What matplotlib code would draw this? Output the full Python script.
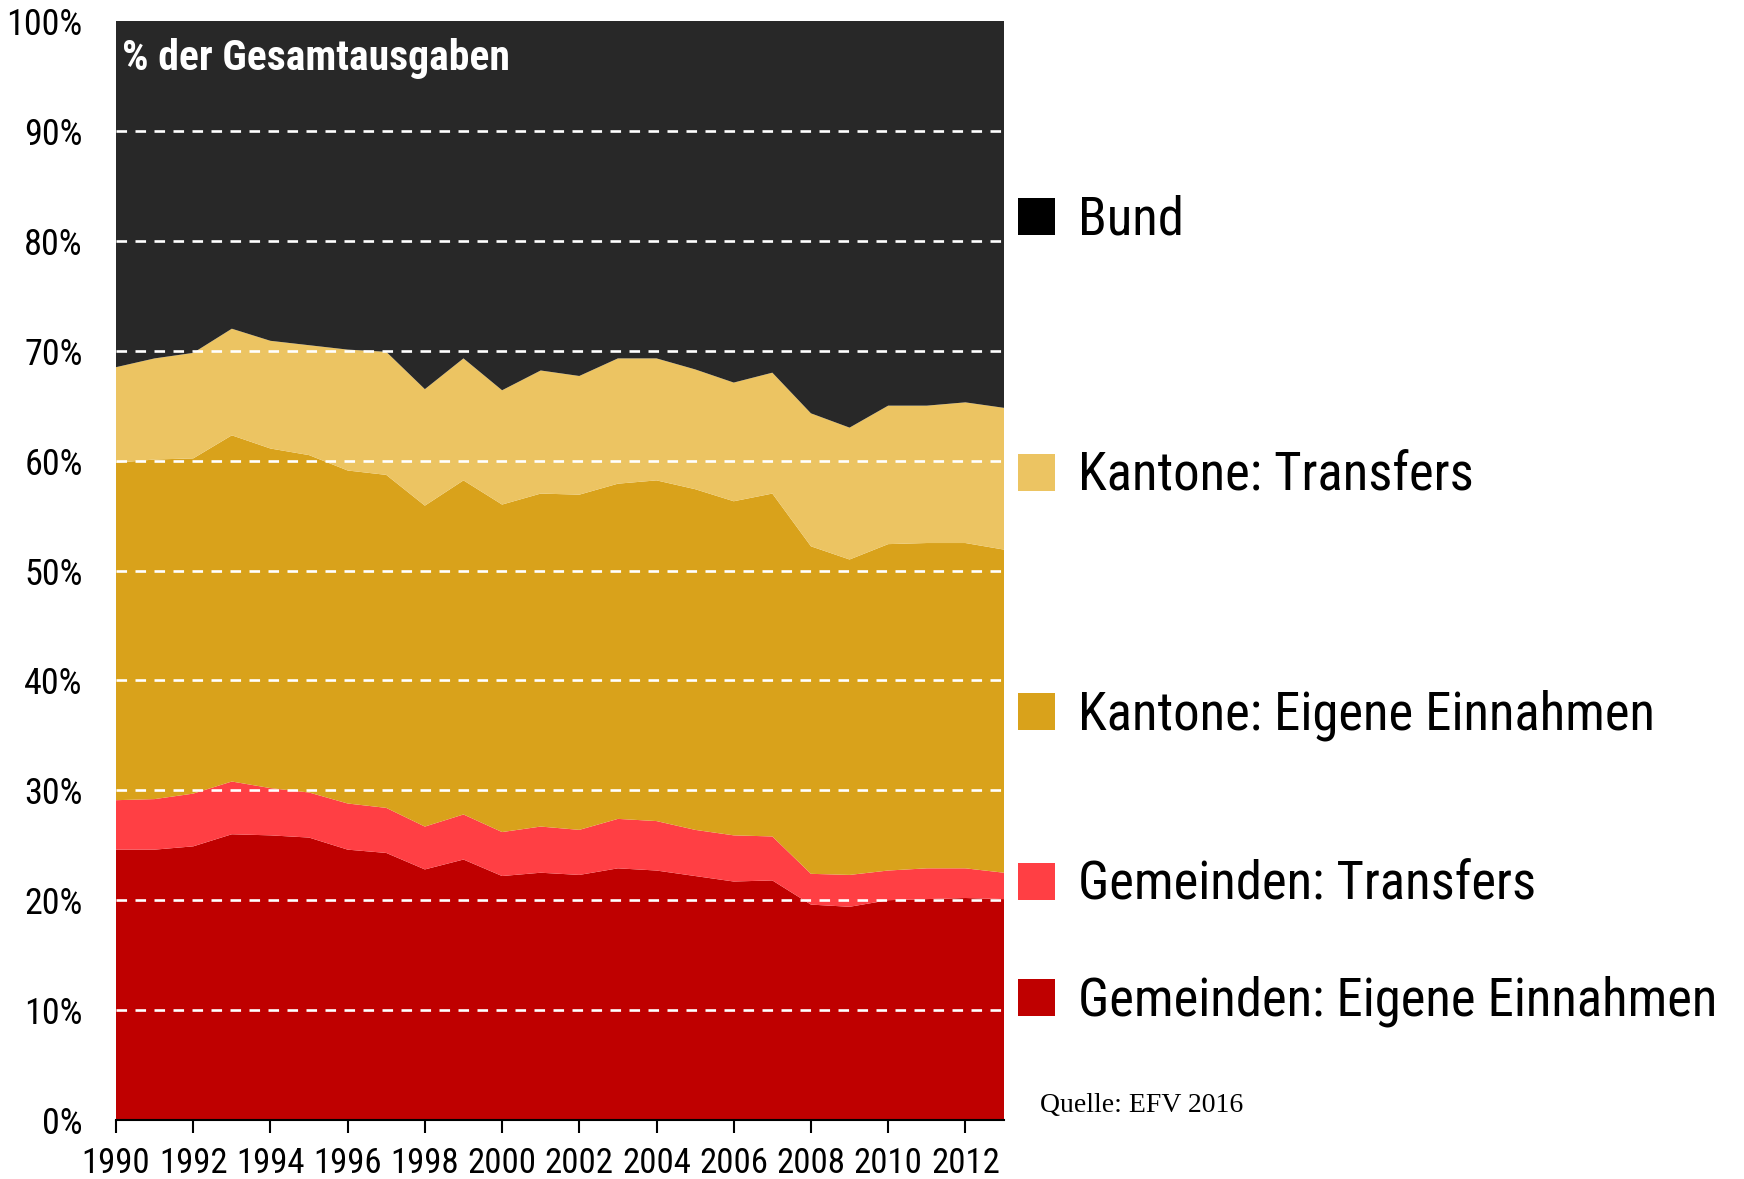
import matplotlib
matplotlib.use('Agg')
import matplotlib.pyplot as plt
from matplotlib import font_manager
from matplotlib.patches import Rectangle

# data (share of total spending, %)
years = list(range(1990, 2014))
gem_eigen = [24.6, 24.6, 24.9, 26.0, 25.9, 25.7, 24.6, 24.3, 22.8, 23.7, 22.2, 22.5,
             22.3, 22.9, 22.7, 22.2, 21.7, 21.8, 19.6, 19.4, 20.0, 20.1, 20.2, 20.1]
gem_transfer = [4.5, 4.6, 4.8, 4.8, 4.3, 4.1, 4.2, 4.1, 3.9, 4.1, 4.0, 4.2,
                4.1, 4.5, 4.5, 4.2, 4.2, 4.0, 2.8, 2.9, 2.7, 2.8, 2.7, 2.4]
kant_eigen = [30.7, 30.9, 30.5, 31.5, 30.9, 30.7, 30.3, 30.3, 29.2, 30.4, 29.8, 30.3,
              30.5, 30.5, 31.0, 31.0, 30.4, 31.2, 29.8, 28.7, 29.7, 29.6, 29.6, 29.4]
kant_transfer = [8.7, 9.2, 9.6, 9.7, 9.8, 10.0, 11.0, 11.2, 10.6, 11.1, 10.4, 11.2,
                 10.8, 11.4, 11.1, 10.9, 10.8, 11.0, 12.1, 12.0, 12.6, 12.5, 12.8, 12.9]
bund = [100 - a - b - c - d for a, b, c, d in zip(gem_eigen, gem_transfer, kant_eigen, kant_transfer)]

labels = ['Gemeinden: Eigene Einnahmen', 'Gemeinden: Transfers',
          'Kantone: Eigene Einnahmen', 'Kantone: Transfers', 'Bund']
colors = ['#bf0000', '#ff3f44', '#d9a21b', '#ecc462', '#282828']
legend_colors = ['#bf0000', '#ff3f44', '#d9a21b', '#ecc462', '#000000']
legend_y = [997, 881, 711, 472, 216]  # pixel centres of legend squares

y_ticks = list(range(0, 101, 10))
x_ticks = list(range(1990, 2013, 2))

# pick a condensed font if there is one
avail = {f.name for f in font_manager.fontManager.ttflist}
narrow = 'DejaVu Sans'
for name in ['Liberation Sans Narrow', 'Roboto Condensed', 'Open Sans Condensed', 'DejaVu Sans']:
    if name in avail:
        narrow = name
        break
plt.rcParams['font.family'] = [narrow, 'DejaVu Sans']

W, H = 1744, 1179
fig = plt.figure(figsize=(W / 100, H / 100), dpi=100)
ax = fig.add_axes([116 / W, 1 - 1120 / H, (1004 - 116) / W, (1120 - 21) / H])

ax.stackplot(years, gem_eigen, gem_transfer, kant_eigen, kant_transfer, bund,
             colors=colors, linewidth=0)

for v in y_ticks[1:-1]:
    ax.axhline(v, color='white', lw=1.9, dashes=(4, 3.2), zorder=3)

ax.set_xlim(1990, 2013)
ax.set_ylim(0, 100)
ax.set_yticks(y_ticks)
ax.set_yticklabels([f'{v}%' for v in y_ticks], fontsize=26)
ax.set_xticks(x_ticks)
ax.set_xticklabels([str(v) for v in x_ticks], fontsize=25)
ax.tick_params(axis='y', length=0, pad=24)
ax.tick_params(axis='x', length=9.5, width=1.5, pad=10, color='black')
for s in ['left', 'top', 'right']:
    ax.spines[s].set_visible(False)
ax.spines['bottom'].set_linewidth(1.5)
ax.spines['bottom'].set_zorder(4)

ax.text(122 / W, 1 - 70 / H, '% der Gesamtausgaben', transform=fig.transFigure,
        color='white', fontsize=30, fontweight='bold', va='baseline', zorder=5)

# legend on the right
sq = 37
for lab, c, yc in zip(labels, legend_colors, legend_y):
    fig.add_artist(Rectangle((1018 / W, 1 - (yc + sq / 2) / H), sq / W, sq / H,
                             transform=fig.transFigure, color=c, lw=0))
    fig.text(1078 / W, 1 - (yc + sq / 2) / H, lab, fontsize=38, va='baseline')

fig.text(1040 / W, 1 - 1112 / H, 'Quelle: EFV 2016', fontsize=20,
         family=['Liberation Serif', 'DejaVu Serif'], va='baseline')

fig.savefig('out.png', dpi=100)
